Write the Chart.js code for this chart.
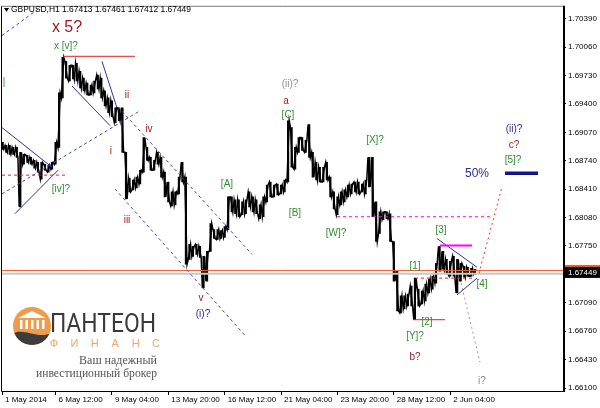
<!DOCTYPE html>
<html><head><meta charset="utf-8">
<script src="https://cdn.jsdelivr.net/npm/chart.js@4/dist/chart.umd.min.js"></script>
<style>html,body{margin:0;padding:0;background:#fff;overflow:hidden}#wrap{width:600px;height:408px}</style>
</head><body><div id="wrap"><canvas id="c" width="600" height="408"></canvas></div>
<script>
const headerText = 'GBPUSD,H1 1.67413 1.67461 1.67412 1.67449';
const lastPrice = 1.67449;
const bidLinePrice = 1.67427;
const askLinePrice = 1.67466;
const xTickBars = [0, 64, 128, 192, 256, 320, 384, 448, 512];
const xTickLabels = ['1 May 2014', '6 May 12:00', '9 May 04:00', '13 May 20:00', '16 May 12:00', '21 May 04:00', '23 May 20:00', '28 May 12:00', '2 Jun 04:00'];
const yTickValues = [1.70390, 1.70060, 1.69730, 1.69400, 1.69070, 1.68740, 1.68410, 1.68080, 1.67750, 1.67090, 1.66760, 1.66430, 1.66100];
const hoursPerSample = 4;
const highs = [
 1.68953,1.68918,1.68918,1.68895,1.68895,1.68838,1.68815,1.68803,1.68780,1.68745,
 1.68722,1.68722,1.68699,1.68688,1.68722,1.68953,1.69528,1.69942,1.69895,1.69849,
 1.69849,1.69872,1.69780,1.69700,1.69643,1.69620,1.69666,1.69735,1.69700,1.69551,
 1.69470,1.69436,1.69355,1.69355,1.69355,1.68838,1.68539,1.68516,1.68550,1.68630,
 1.69010,1.68895,1.68780,1.68745,1.68838,1.68780,1.68608,1.68493,1.68378,1.68378,
 1.68550,1.68722,1.68550,1.67768,1.67745,1.67768,1.67745,1.67630,1.67687,1.68010,
 1.67940,1.67940,1.67929,1.67975,1.68320,1.68320,1.68285,1.68285,1.68262,1.68285,
 1.68378,1.68320,1.68285,1.68228,1.68320,1.68458,1.68493,1.68458,1.68470,1.68458,
 1.68516,1.69205,1.69125,1.68895,1.69010,1.69010,1.68976,1.69160,1.68838,1.68722,
 1.68665,1.68665,1.68722,1.68550,1.68378,1.68320,1.68378,1.68401,1.68458,1.68470,
 1.68493,1.68493,1.68470,1.68516,1.68780,1.68780,1.68262,1.68147,1.68147,1.68147,
 1.68125,1.67802,1.67457,1.67170,1.67170,1.67193,1.67285,1.67377,1.67250,1.67227,
 1.67308,1.67365,1.67400,1.67549,1.67745,1.67687,1.67595,1.67572,1.67630,1.67595,
 1.67549,1.67515,1.67503,1.67492,1.67480];
const lows = [
 1.68872,1.68838,1.68815,1.68815,1.68780,1.68205,1.68699,1.68722,1.68699,1.68653,
 1.68608,1.68527,1.68630,1.68608,1.68642,1.68699,1.68895,1.69470,1.69700,1.69666,
 1.69689,1.69666,1.69585,1.69551,1.69505,1.69505,1.69528,1.69574,1.69470,1.69378,
 1.69298,1.69252,1.69183,1.69205,1.68838,1.68297,1.68378,1.68401,1.68424,1.68470,
 1.68608,1.68745,1.68630,1.68630,1.68699,1.68550,1.68320,1.68262,1.68216,1.68228,
 1.68355,1.68493,1.67538,1.67595,1.67630,1.67653,1.67618,1.67262,1.67342,1.67687,
 1.67837,1.67825,1.67837,1.67849,1.67940,1.68147,1.68125,1.68090,1.68113,1.68125,
 1.68205,1.68147,1.68125,1.68067,1.68090,1.68262,1.68320,1.68320,1.68343,1.68355,
 1.68378,1.68493,1.68665,1.68642,1.68838,1.68860,1.68838,1.68780,1.68550,1.68516,
 1.68493,1.68493,1.68516,1.68320,1.68182,1.68113,1.68228,1.68262,1.68320,1.68355,
 1.68378,1.68355,1.68378,1.68355,1.68435,1.68090,1.67802,1.67895,1.68055,1.68067,
 1.67802,1.67342,1.66997,1.66974,1.67020,1.67055,1.67055,1.66894,1.67055,1.67078,
 1.67112,1.67204,1.67250,1.67319,1.67457,1.67480,1.67434,1.67400,1.67400,1.67204,
 1.67342,1.67388,1.67400,1.67400,1.67423];

// wave-count annotation lines: [bar1, price1, bar2, price2, style]
const segments = [
 [72.4, 1.69953, 154.2, 1.69953, 'red'],
 [82.7, 1.69608, 125.8, 1.69148, 'navy'],
 [116.7, 1.69895, 133.7, 1.69355, 'navy'],
 [3.2, 1.70194, 60.0, 1.70620, 'dash'],
 [3.2, 1.68355, 159.9, 1.69321, 'dash'],
 [134.9, 1.69366, 287.0, 1.67653, 'dash'],
 [131.5, 1.68412, 279.1, 1.66710, 'dash'],
 [3.2, 1.69125, 59.9, 1.68665, 'navy'],
 [17.9, 1.68125, 66.8, 1.68630, 'navy'],
 [3.2, 1.68573, 77.0, 1.68573, 'redDash'],
 [383.5, 1.68090, 559.5, 1.68090, 'magDash'],
 [500.5, 1.67756, 536.8, 1.67756, 'mag'],
 [497.0, 1.67837, 542.5, 1.67503, 'navy'],
 [519.8, 1.67181, 542.5, 1.67377, 'navy'],
 [472.1, 1.67377, 537.9, 1.67377, 'redDash'],
 [469.8, 1.66894, 506.1, 1.66894, 'red'],
 [544.7, 1.67434, 570.8, 1.68435, 'redDot'],
 [524.3, 1.67319, 545.9, 1.66400, 'greyDot'],
 [574.3, 1.68596, 611.7, 1.68596, 'navyThick'],
 [3.2, askLinePrice, 640.1, askLinePrice, 'ask'],
 [3.2, bidLinePrice, 640.1, bidLinePrice, 'bid']
];
const lineStyles = {
 red: ['#e42020', 1, []], navy: ['#3030b0', 1, []], dash: ['#4444b4', 1, [3, 3]],
 redDash: ['#f02020', 1, [3, 3]], magDash: ['#ff00ff', 1, [3, 3]], mag: ['#ff00ff', 2, []],
 redDot: ['#ff3030', 1, [2, 3]], greyDot: ['#9a9a9a', 1, [2, 3]], navyThick: ['#14148a', 3.5, []],
 ask: ['#f0602a', 1, []], bid: ['#c8c8c8', 2, []]
};
// wave labels: [text, bar, price, colorKey, fontSize]
const waveLabels = [
 ['x 5?', 77.0, 1.70287, 'R', 16],
 ['x [v]?', 75.8, 1.70068, 'G', 10],
 ['ii', 145.1, 1.69505, 'R', 10],
 ['iv', 170.1, 1.69102, 'R', 10],
 ['i', 126.9, 1.68849, 'R', 10],
 ['iii', 145.1, 1.68044, 'R', 10],
 ['[iv]?', 70.2, 1.68412, 'G', 10],
 ['|', 5.4, 1.69654, 'G', 10],
 ['v', 229.1, 1.67147, 'R', 10],
 ['(i)?', 231.4, 1.66963, 'N', 10],
 ['(ii)?', 330.2, 1.69631, 'Y', 10],
 ['a', 325.6, 1.69436, 'R', 10],
 ['[C]', 327.9, 1.69263, 'G', 10],
 ['[A]', 258.6, 1.68470, 'G', 10],
 ['[B]', 335.8, 1.68125, 'G', 10],
 ['[W]?', 382.4, 1.67895, 'G', 10],
 ['[X]?', 426.7, 1.68976, 'G', 10],
 ['[3]', 501.6, 1.67929, 'G', 10],
 ['[1]', 472.1, 1.67515, 'G', 10],
 ['[4]', 548.1, 1.67308, 'G', 10],
 ['[2]', 485.7, 1.66860, 'G', 10],
 ['[Y]?', 472.1, 1.66699, 'G', 10],
 ['b?', 472.1, 1.66457, 'R', 10],
 ['i?', 548.1, 1.66181, 'Y', 10],
 ['(ii)?', 584.5, 1.69102, 'N', 10],
 ['c?', 584.5, 1.68918, 'R', 10],
 ['[5]?', 583.3, 1.68746, 'G', 10],
 ['50%', 542.5, 1.68585, 'N', 12]
];
const labelColors = { R: '#9c1717', G: '#2f8f2f', N: '#2c2c98', Y: '#8c8c8c' };

const FONT = '"Liberation Sans", Arial, sans-serif';
const priceData = highs.map((h, i) => ({ x: (i + 1) * hoursPerSample, y: [lows[i], h] }));
// zig-zag path through each sample's range (high/low order follows the direction of the next sample)
const pathData = [];
highs.forEach((h, i) => {
  const b = (i + 1) * hoursPerSample;
  const up = i + 1 < highs.length ? (highs[i + 1] + lows[i + 1]) > (h + lows[i]) : true;
  pathData.push({ x: b - 1.3, y: up ? lows[i] : h }, { x: b + 1.3, y: up ? h : lows[i] });
});
const lineSets = segments.map(s => {
  const st = lineStyles[s[4]];
  return { type: 'line', data: [{ x: s[0], y: s[1] }, { x: s[2], y: s[3] }], borderColor: st[0], borderWidth: st[1], borderDash: st[2], pointRadius: 0, fill: false, tension: 0, order: 1 };
});

const decor = {
  id: 'decor',
  beforeDatasetsDraw(chart) {
    const ctx = chart.ctx;
    ctx.save();
    ctx.beginPath(); ctx.arc(32, 326, 19, 0, Math.PI * 2); ctx.clip();
    ctx.fillStyle = '#ef9b4b'; ctx.fillRect(12, 306, 42, 42);
    ctx.fillStyle = '#3c3c3c';
    ctx.beginPath(); ctx.moveTo(12, 334); ctx.bezierCurveTo(24, 326, 40, 342, 54, 331); ctx.lineTo(54, 348); ctx.lineTo(12, 348); ctx.closePath(); ctx.fill();
    ctx.fillStyle = '#fff';
    ctx.beginPath(); ctx.moveTo(18, 318); ctx.lineTo(32, 311); ctx.lineTo(46, 318); ctx.closePath(); ctx.fill();
    for (let k = 0; k < 5; k++) ctx.fillRect(20 + k * 5.5, 320, 2.5, 9);
    ctx.restore();
    ctx.save();
    ctx.fillStyle = '#3a3a3a';
    ctx.font = '26px Roboto, sans-serif';
    ctx.textBaseline = 'alphabetic'; ctx.textAlign = 'left';
    ctx.fillText('ПАНТЕОН', 50, 332, 106);
    ctx.fillStyle = '#f0a868';
    ctx.font = '11px ' + FONT; ctx.textAlign = 'center';
    'ФИНАНС'.split('').forEach((ch, k) => ctx.fillText(ch, 54 + k * 20.4, 347));
    ctx.fillStyle = '#555';
    ctx.font = '12px "Liberation Serif", serif'; ctx.textAlign = 'right';
    ctx.fillText('Ваш надежный', 157, 364);
    ctx.fillText('инвестиционный брокер', 157, 377, 121);
    ctx.restore();
  },
  afterDatasetsDraw(chart) {
    const { ctx, scales: { x, y } } = chart;
    ctx.save();
    ctx.textAlign = 'center'; ctx.textBaseline = 'middle';
    waveLabels.forEach(l => {
      ctx.font = l[4] + 'px ' + FONT;
      ctx.fillStyle = labelColors[l[3]];
      ctx.fillText(l[0], x.getPixelForValue(l[1]), y.getPixelForValue(l[2]));
    });
    ctx.restore();
  },
  afterDraw(chart) {
    const { ctx, chartArea: a, scales: { y } } = chart;
    ctx.save();
    ctx.strokeStyle = '#7a7a7a'; ctx.lineWidth = 1;
    ctx.beginPath(); ctx.moveTo(a.left - 0.5, a.top - 0.5); ctx.lineTo(a.right, a.top - 0.5); ctx.stroke();
    ctx.strokeStyle = '#000';
    ctx.beginPath(); ctx.moveTo(a.left - 0.5, a.top - 0.5); ctx.lineTo(a.left - 0.5, a.bottom + 0.5); ctx.lineTo(a.right, a.bottom + 0.5); ctx.stroke();
    ctx.lineWidth = 2;
    ctx.beginPath(); ctx.moveTo(a.right + 1, a.top - 1); ctx.lineTo(a.right + 1, a.bottom + 1); ctx.stroke();
    ctx.fillStyle = '#000';
    ctx.beginPath(); ctx.moveTo(4, 8); ctx.lineTo(9, 8); ctx.lineTo(6.5, 12); ctx.closePath(); ctx.fill();
    ctx.font = '9px ' + FONT; ctx.textBaseline = 'middle'; ctx.textAlign = 'left';
    ctx.fillText(headerText, 11, 10, 180);
    const py = y.getPixelForValue(lastPrice);
    ctx.fillStyle = '#f0602a'; ctx.fillRect(a.right + 2, py - 7, 600 - a.right, 3);
    ctx.fillStyle = '#000'; ctx.fillRect(a.right + 2, py - 5, 600 - a.right, 11);
    ctx.fillStyle = '#fff'; ctx.font = '8px ' + FONT;
    ctx.fillText(lastPrice.toFixed(5), a.right + 5, py + 0.5);
    ctx.restore();
  }
};

new Chart(document.getElementById('c'), {
  type: 'bar',
  data: { datasets: [
    { type: 'bar', data: priceData, backgroundColor: '#000', borderWidth: 0, barThickness: 1.5, order: 3 },
    { type: 'line', data: pathData, borderColor: '#000', borderWidth: 1.5, pointRadius: 0, fill: false, tension: 0, order: 2 },
    ...lineSets
  ] },
  options: {
    responsive: false, animation: false, devicePixelRatio: 1,
    layout: { padding: { left: 2, top: 3, right: 0, bottom: 0 } },
    plugins: { legend: { display: false }, tooltip: { enabled: false } },
    scales: {
      x: {
        type: 'linear', min: 3.2, max: 640.1, offset: false,
        grid: { display: true, drawOnChartArea: false, drawTicks: true, tickLength: 4, color: '#000', offset: false },
        border: { display: false },
        afterBuildTicks: s => { s.ticks = xTickBars.map(v => ({ value: Math.max(v, s.min) })); },
        afterFit: s => { s.height = 17; },
        ticks: { align: 'start', labelOffset: 3, padding: 0, autoSkip: false, maxRotation: 0, color: '#000',
          font: { family: FONT, size: 8 }, callback: (v, i) => xTickLabels[i] }
      },
      y: {
        type: 'linear', position: 'right', min: 1.66066, max: 1.70528,
        grid: { display: true, drawOnChartArea: false, drawTicks: true, tickLength: 3, color: '#000' },
        border: { display: false },
        afterBuildTicks: s => { s.ticks = yTickValues.map(v => ({ value: v })); },
        afterFit: s => { s.width = 37; },
        ticks: { padding: 2, color: '#000', font: { family: FONT, size: 8 }, callback: v => Number(v).toFixed(5) }
      }
    }
  },
  plugins: [decor]
});
</script></body></html>
